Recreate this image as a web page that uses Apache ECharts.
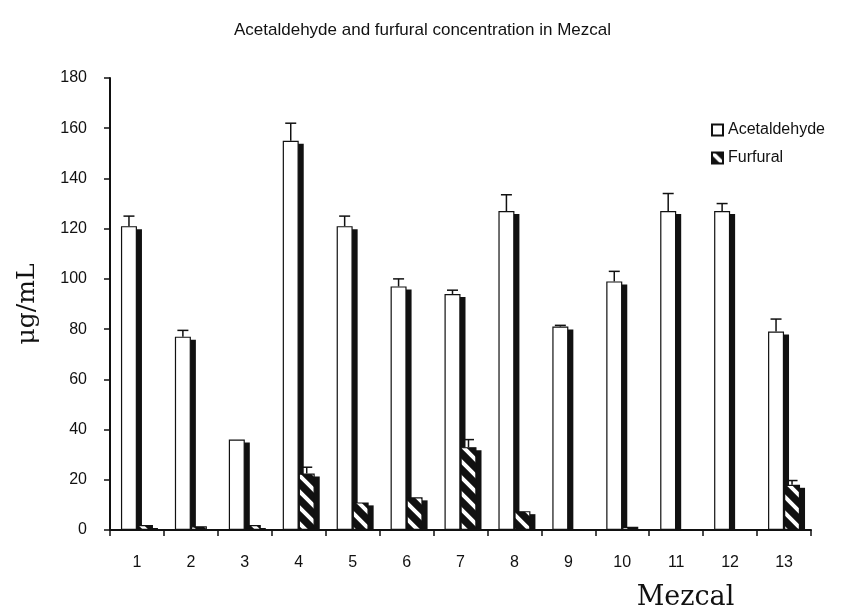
<!DOCTYPE html>
<html>
<head>
<meta charset="utf-8">
<script src="https://cdn.jsdelivr.net/npm/echarts@6/dist/echarts.min.js"></script>
<style>
html,body{margin:0;padding:0;background:#fff;}
#chart{width:845px;height:608px;}
</style>
</head>
<body>
<div id="chart"></div>
<script>
const categories = ['1','2','3','4','5','6','7','8','9','10','11','12','13'];
const acetaldehyde = [121, 77, 36, 155, 121, 97, 94, 127, 81, 99, 127, 127, 79];
const acetaldehydeErr = [4, 2.5, 0, 7, 4, 3, 1.5, 6.5, 0.5, 4, 7, 3, 5];
const furfural = [2, 1.5, 2, 22.5, 11, 13, 33, 7.5, 0, 1.3, 0, 0, 18];
const furfuralErr = [0, 0, 0, 2.5, 0, 0, 3, 0, 0, 0, 0, 0, 1.7];
const yTicks = [0, 20, 40, 60, 80, 100, 120, 140, 160, 180];

const BAR_W = 16;
const SH_X = 5, SH_Y = 3;

// stripe pattern: black background with white "\" stripes
function makeStripe() {
  const c = document.createElement('canvas');
  const s = 16;
  c.width = s; c.height = s;
  const g = c.getContext('2d');
  g.fillStyle = '#111';
  g.fillRect(0, 0, s, s);
  g.strokeStyle = '#fff';
  g.lineWidth = 4;
  g.beginPath();
  g.moveTo(-4, -4); g.lineTo(s + 4, s + 4);
  g.moveTo(-4 - s, -4); g.lineTo(4, s + 4);
  g.moveTo(s - 4, -4); g.lineTo(2 * s + 4, s + 4);
  g.stroke();
  return c;
}
const stripe = { image: makeStripe(), repeat: 'repeat' };

const chart = echarts.init(document.getElementById('chart'), null, { renderer: 'canvas' });

function errData(vals, errs) {
  return vals.map((v, i) => [i, v, errs[i]]);
}
function errRenderer(offset) {
  return function (params, api) {
    const i = api.value(0), v = api.value(1), e = api.value(2);
    if (!e) return null;
    const base = api.coord([i, v]);
    const top = api.coord([i, v + e]);
    const x = base[0] + offset;
    const cap = 5.5;
    return {
      type: 'group',
      children: [
        { type: 'line', shape: { x1: x, y1: base[1], x2: x, y2: top[1] }, style: { stroke: '#111', lineWidth: 1.5 } },
        { type: 'line', shape: { x1: x - cap, y1: top[1], x2: x + cap, y2: top[1] }, style: { stroke: '#111', lineWidth: 1.5 } }
      ]
    };
  };
}
function shadowRenderer(leftOffset) {
  return function (params, api) {
    const i = api.value(0), v = api.value(1);
    if (!v) return null;
    const top = api.coord([i, v]);
    const base = api.coord([i, 0]);
    const y = top[1] + SH_Y;
    const h = base[1] - y;
    if (h <= 0) return null;
    return {
      type: 'rect',
      shape: { x: top[0] + leftOffset + SH_X, y: y, width: BAR_W, height: h },
      style: { fill: '#111' }
    };
  };
}

const option = {
  backgroundColor: '#fff',
  animation: false,
  title: {
    text: 'Acetaldehyde and furfural concentration in Mezcal',
    left: 'center',
    top: 17,
    textStyle: { fontFamily: 'Liberation Sans, Arial, sans-serif', fontSize: 17, fontWeight: 'normal', color: '#111' }
  },
  legend: {
    data: ['Acetaldehyde', 'Furfural'],
    orient: 'vertical',
    left: 706,
    top: 117,
    itemWidth: 11,
    itemHeight: 11,
    itemGap: 12,
    icon: 'rect',
    textStyle: { fontFamily: 'Liberation Sans, Arial, sans-serif', fontSize: 16, color: '#111' }
  },
  grid: { left: 110, right: 34, top: 78, bottom: 78, containLabel: false, outerBoundsMode: 'none' },
  xAxis: {
    type: 'category',
    data: categories,
    name: 'Mezcal',
    nameLocation: 'middle',
    nameGap: 54,
    nameTextStyle: { fontFamily: 'DejaVu Serif, serif', fontSize: 27, color: '#111', padding: [0, 0, 0, 450] },
    axisLine: { lineStyle: { color: '#111', width: 2 } },
    axisTick: { show: true, alignWithLabel: false, length: 6, lineStyle: { color: '#111', width: 1.5 } },
    axisLabel: { margin: 25, fontFamily: 'Liberation Sans, Arial, sans-serif', fontSize: 16, color: '#111' },
    splitLine: { show: false }
  },
  yAxis: {
    type: 'value',
    min: yTicks[0],
    max: yTicks[yTicks.length - 1],
    interval: yTicks[1] - yTicks[0],
    name: 'μg/mL',
    nameLocation: 'middle',
    nameGap: 70,
    nameRotate: 90,
    nameTextStyle: { fontFamily: 'DejaVu Serif, serif', fontSize: 25, color: '#111' },
    axisLine: { show: true, lineStyle: { color: '#111', width: 2 } },
    axisTick: { show: true, length: 6, lineStyle: { color: '#111', width: 1.5 } },
    axisLabel: { margin: 23, fontFamily: 'Liberation Sans, Arial, sans-serif', fontSize: 16, color: '#111' },
    splitLine: { show: false }
  },
  series: [
    {
      name: 'shadowA',
      type: 'custom',
      data: acetaldehyde.map((v, i) => [i, v]),
      renderItem: shadowRenderer(-BAR_W),
      z: 1,
      silent: true
    },
    {
      name: 'shadowF',
      type: 'custom',
      data: furfural.map((v, i) => [i, v]),
      renderItem: shadowRenderer(0),
      z: 1,
      silent: true
    },
    {
      name: 'Acetaldehyde',
      type: 'bar',
      data: acetaldehyde,
      barWidth: BAR_W,
      barGap: '0%',
      z: 2,
      itemStyle: { color: '#fff', borderColor: '#111', borderWidth: 1.2 }
    },
    {
      name: 'Furfural',
      type: 'bar',
      data: furfural,
      barWidth: BAR_W,
      barGap: '0%',
      z: 3,
      itemStyle: { color: stripe, borderColor: '#111', borderWidth: 1.2 }
    },
    {
      name: 'errA',
      type: 'custom',
      data: errData(acetaldehyde, acetaldehydeErr),
      renderItem: errRenderer(-BAR_W / 2),
      z: 5,
      silent: true
    },
    {
      name: 'errF',
      type: 'custom',
      data: errData(furfural, furfuralErr),
      renderItem: errRenderer(BAR_W / 2),
      z: 5,
      silent: true
    }
  ]
};
chart.setOption(option);
</script>
</body>
</html>
